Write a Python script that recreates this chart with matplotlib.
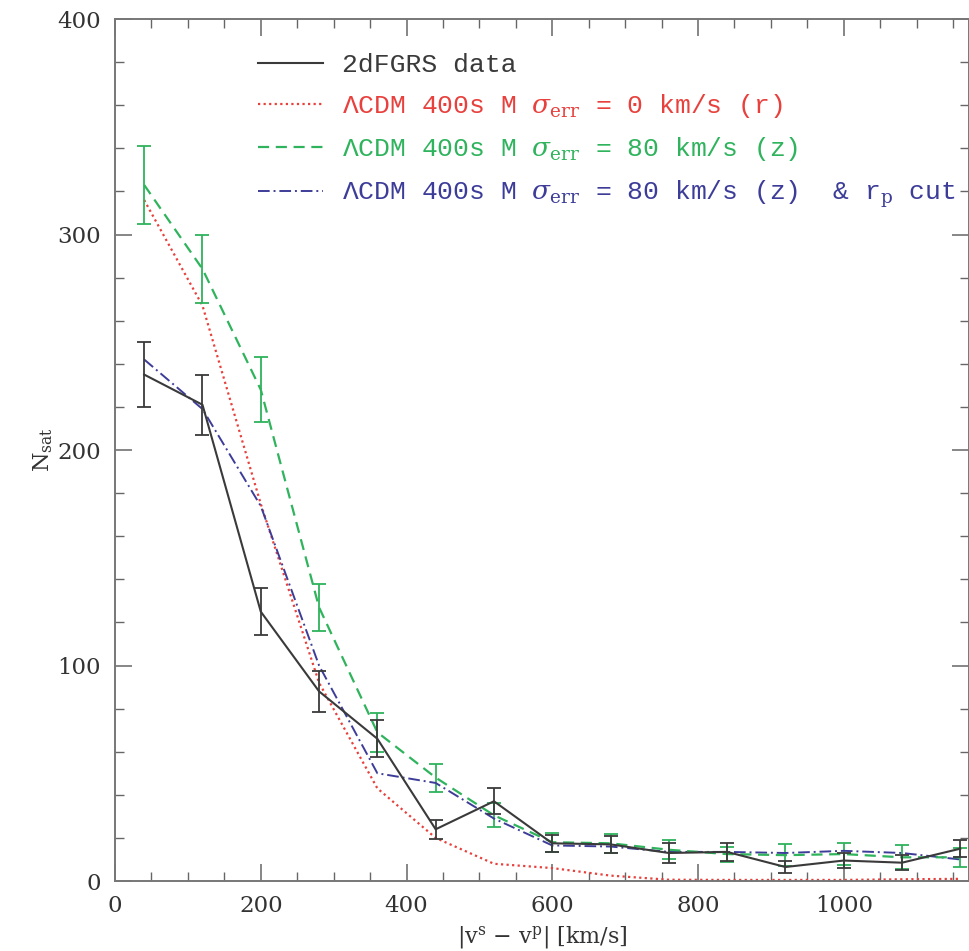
import matplotlib
matplotlib.use('Agg')
import matplotlib.pyplot as plt
from matplotlib.ticker import MultipleLocator

# velocity difference bins [km/s]
dv = [40, 120, 200, 280, 360, 440, 520, 600, 680, 760, 840, 920, 1000, 1080, 1160]

# 2dFGRS data and errors
n_data = [235, 221, 125, 88, 66, 24, 37, 17.5, 17, 13, 13.5, 6.5, 9.5, 8.5, 15]
err_data = [15, 14, 11, 9.5, 8.5, 4.5, 6, 4, 4, 4.5, 4.3, 3, 3.5, 3.5, 4]

# LCDM, sigma_err = 0 (r)
n_red = [316, 267, 175, 92, 43, 20, 8, 6, 2.5, 0.6, 0.5, 0.5, 0.5, 0.8, 1]

# LCDM, sigma_err = 80 (z), with errors
n_green = [323, 284, 228, 127, 69, 48, 30.5, 18, 17.5, 14.5, 12.5, 12, 12.5, 11, 11]
err_green = [18, 16, 15, 11, 9, 6.5, 5.5, 4.5, 4.5, 4.5, 3.5, 5, 5, 5.5, 4.5]

# LCDM, sigma_err = 80 (z) & r_p cut
n_blue = [242, 219, 174, 100, 50, 45.5, 29, 16.5, 16, 13.5, 13.5, 13, 14, 13, 10]

labels = ['2dFGRS data',
          r'ΛCDM 400s M $\sigma_{\rm err}$ = 0 km/s (r)',
          r'ΛCDM 400s M $\sigma_{\rm err}$ = 80 km/s (z)',
          r'ΛCDM 400s M $\sigma_{\rm err}$ = 80 km/s (z)  & r$_{\rm p}$ cut']

c_black = '#3a3a3a'
c_red = '#e8403c'
c_green = '#2fb35c'
c_blue = '#3d3d99'

plt.rcParams['font.family'] = 'DejaVu Serif'
plt.rcParams['mathtext.fontset'] = 'dejavuserif'

fig = plt.figure(figsize=(9.7, 9.51), dpi=100)
ax = fig.add_axes([0.1186, 0.0736, 0.8804, 0.9064])

eb1 = ax.errorbar(dv, n_data, yerr=err_data, color=c_black, lw=1.5, capsize=5,
                  elinewidth=1.3, capthick=1.3, zorder=4)
l_red, = ax.plot(dv, n_red, color=c_red, lw=1.6, ls=(0, (1, 1.5)), zorder=2)
eb2 = ax.errorbar(dv, n_green, yerr=err_green, color=c_green, lw=1.6, ls=(0, (5, 3)),
                  capsize=5, elinewidth=1.3, capthick=1.3, zorder=3)
l_blue, = ax.plot(dv, n_blue, color=c_blue, lw=1.4, ls=(0, (6, 2, 1, 2)), zorder=3)

ax.set_xlim(0, 1172)
ax.set_ylim(0, 400)
ax.xaxis.set_major_locator(MultipleLocator(200))
ax.xaxis.set_minor_locator(MultipleLocator(50))
ax.yaxis.set_major_locator(MultipleLocator(100))
ax.yaxis.set_minor_locator(MultipleLocator(20))
ax.tick_params(which='both', direction='in', top=True, right=True,
               color='#666666', labelsize=16.5, labelcolor='#333333')
ax.tick_params(which='major', length=12, width=1.1, pad=10)
ax.tick_params(which='minor', length=6.5, width=1.0)
for sp in ax.spines.values():
    sp.set_color('#777777')
    sp.set_linewidth(1.4)

ax.set_xlabel(r'|v$^{\rm s}$ $-$ v$^{\rm p}$| [km/s]', fontsize=16, color='#333333', labelpad=5)
ax.set_ylabel(r'N$_{\rm sat}$', fontsize=16, color='#333333', labelpad=2)

handles = [eb1[0], l_red, eb2[0], l_blue]
leg = ax.legend(handles, labels, loc='upper left', bbox_to_anchor=(0.155, 0.973),
                frameon=False, prop={'family': 'Liberation Mono', 'size': 19},
                handlelength=2.45, handletextpad=0.75, labelspacing=0.58,
                borderaxespad=0)
for txt, col in zip(leg.get_texts(), [c_black, c_red, c_green, c_blue]):
    txt.set_color(col)

fig.savefig('out.png', dpi=100)
